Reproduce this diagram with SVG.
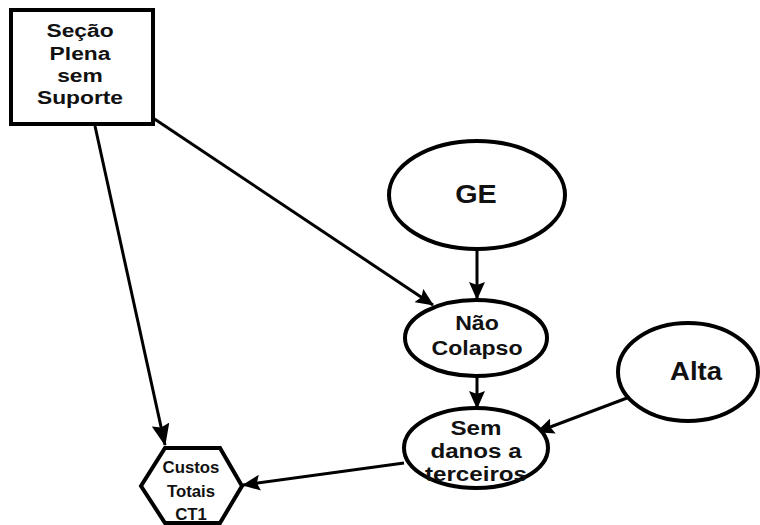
<svg xmlns="http://www.w3.org/2000/svg" width="760" height="525" viewBox="0 0 760 525">
  <defs>
    <style>
      .node { fill: #fff; stroke: #000; stroke-width: 4; }
      .lbl { font-family: "Liberation Sans", Arial, sans-serif; font-weight: bold; fill: #111; text-anchor: middle; }
      .edge { stroke: #000; stroke-width: 3; fill: none; }
    </style>
    <marker id="arrow" viewBox="0 0 18 16" refX="17" refY="8" markerWidth="18" markerHeight="16" markerUnits="userSpaceOnUse" orient="auto">
      <path d="M0,0 L18,8 L0,16 L3,8 z" fill="#000"/>
    </marker>
    <marker id="arrow-big" viewBox="0 0 22 18" refX="21" refY="9" markerWidth="22" markerHeight="18" markerUnits="userSpaceOnUse" orient="auto">
      <path d="M0,0 L22,9 L0,18 L3,9 z" fill="#000"/>
    </marker>
  </defs>
  <rect width="760" height="525" fill="#fff"/>

  <g id="edges">
    <line class="edge" x1="95" y1="126" x2="165" y2="445" stroke-width="5" marker-end="url(#arrow-big)"/>
    <line class="edge" x1="153" y1="118" x2="433" y2="305" marker-end="url(#arrow)"/>
    <line class="edge" x1="477" y1="250" x2="477" y2="299" marker-end="url(#arrow)"/>
    <line class="edge" x1="477" y1="377" x2="477" y2="408" marker-end="url(#arrow)"/>
    <line class="edge" x1="627" y1="398" x2="537" y2="432" marker-end="url(#arrow)"/>
    <line class="edge" x1="404" y1="463" x2="243" y2="485" marker-end="url(#arrow)"/>
  </g>

  <g id="secao">
    <rect class="node" x="11" y="10" width="142" height="114"/>
    <text class="lbl" font-size="19" transform="translate(80 0) scale(1.2 1)"><tspan x="0" y="37">Seção</tspan><tspan x="0" y="60">Plena</tspan><tspan x="0" y="82">sem</tspan><tspan x="0" y="104">Suporte</tspan></text>
  </g>

  <g id="ge">
    <ellipse class="node" cx="477" cy="195" rx="88" ry="54"/>
    <text class="lbl" font-size="25" transform="translate(476 0) scale(1.15 1)" x="0" y="203">GE</text>
  </g>

  <g id="nao-colapso">
    <ellipse class="node" cx="476" cy="338" rx="71" ry="38"/>
    <text class="lbl" font-size="21" transform="translate(477 0) scale(1.1 1)"><tspan x="0" y="330">Não</tspan><tspan x="0" y="355">Colapso</tspan></text>
  </g>

  <g id="alta">
    <ellipse class="node" cx="688" cy="372" rx="70" ry="49"/>
    <text class="lbl" font-size="25" transform="translate(696 0) scale(1.1 1)" x="0" y="380">Alta</text>
  </g>

  <g id="sem-danos">
    <ellipse class="node" cx="476" cy="448" rx="72" ry="40"/>
    <text class="lbl" font-size="21" transform="translate(476 0) scale(1.15 1)"><tspan x="0" y="435">Sem</tspan><tspan x="0" y="458">danos a</tspan><tspan x="0" y="481">terceiros</tspan></text>
  </g>

  <g id="custos">
    <polygon class="node" points="165,448 220,448 242,486 220,523 165,523 141,486"/>
    <text class="lbl" font-size="16" transform="translate(191 0) scale(1.05 1)"><tspan x="0" y="473">Custos</tspan><tspan x="0" y="497">Totais</tspan><tspan x="0" y="520">CT1</tspan></text>
  </g>
</svg>
